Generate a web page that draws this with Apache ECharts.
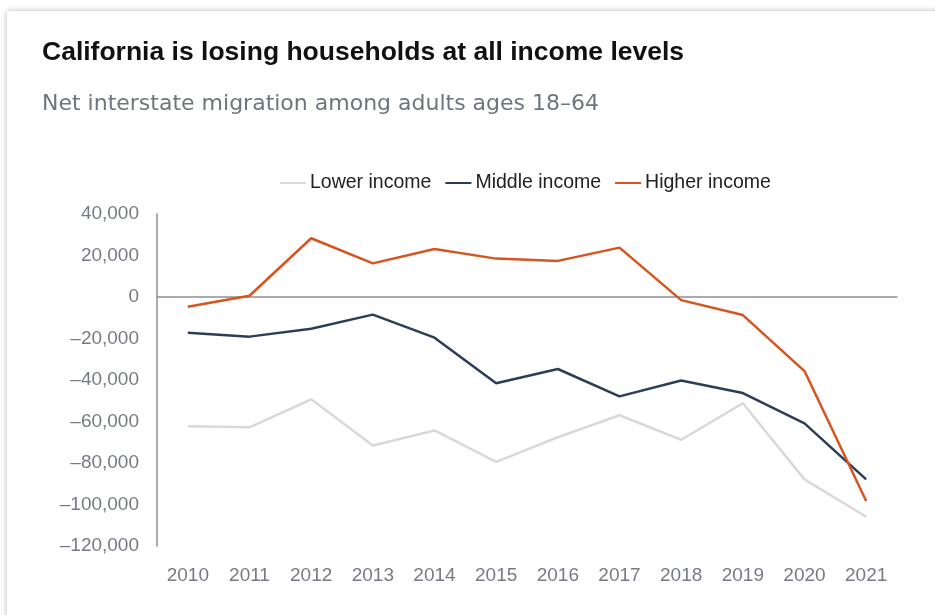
<!DOCTYPE html>
<html>
<head>
<meta charset="utf-8">
<script src="https://cdn.jsdelivr.net/npm/echarts@6/dist/echarts.min.js"></script>
<style>
html,body{margin:0;padding:0;background:#fff;}
#chart{width:935px;height:615px;}
</style>
</head>
<body>
<div id="chart"></div>
<script>
const years = ['2010','2011','2012','2013','2014','2015','2016','2017','2018','2019','2020','2021'];
const lowerIncome = [-62300,-62800,-49300,-71600,-64300,-79500,-67600,-57000,-68800,-51200,-87900,-105900];
const middleIncome = [-17200,-19100,-15300,-8500,-19600,-41600,-34700,-47900,-40200,-46300,-60900,-87900];
const higherIncome = [-4700,600,28300,16200,23100,18500,17400,23800,-1500,-8700,-35700,-98300];
const seriesNames = ['Lower income','Middle income','Higher income'];
const titleText = 'California is losing households at all income levels';
const subtitleText = 'Net interstate migration among adults ages 18–64';

const chart = echarts.init(document.getElementById('chart'), null, {renderer:'canvas'});
const axisGray = '#8c9096';
const labelGray = '#767b83';
const font = 'Liberation Sans, Arial, sans-serif';
chart.setOption({
  backgroundColor: '#ffffff',
  animation: false,
  graphic: [{
    type: 'rect', z: -10, silent: true,
    shape: {x: 7, y: 11, width: 1000, height: 700},
    style: {fill: '#ffffff', shadowBlur: 6, shadowColor: 'rgba(0,0,0,0.28)', shadowOffsetX: 0, shadowOffsetY: 0}
  }],
  title: [{
    text: titleText, left: 37, top: 34,
    textStyle: {fontFamily: font, fontSize: 26.5, fontWeight: 'bold', color: '#111111'}
  },{
    text: subtitleText, left: 37, top: 88,
    textStyle: {fontFamily: 'DejaVu Sans, sans-serif', fontSize: 22, fontWeight: 'normal', color: '#6f757e'}
  }],
  legend: {
    top: 168, left: 275,
    itemWidth: 26, itemHeight: 2, itemGap: 14,
    icon: 'rect',
    textStyle: {fontFamily: font, fontSize: 19.5, color: '#222222', padding: [0,0,0,-1]},
    data: seriesNames
  },
  grid: {left: 157, right: 38, top: 214, bottom: 69, containLabel: false},
  xAxis: {
    type: 'category', data: years, boundaryGap: true,
    axisLine: {onZero: true, lineStyle: {color: axisGray, width: 1.5}},
    axisTick: {show: false},
    axisLabel: {fontFamily: font, fontSize: 19, color: labelGray, margin: 20},
    position: 'bottom'
  },
  yAxis: {
    type: 'value', min: -120000, max: 40000, interval: 20000,
    axisLine: {show: true, lineStyle: {color: axisGray, width: 1.5}},
    axisTick: {show: false},
    splitLine: {show: false},
    axisLabel: {fontFamily: font, fontSize: 19, color: labelGray, margin: 18,
      formatter: v => (v < 0 ? '–' : '') + Math.abs(v).toLocaleString('en-US')}
  },
  series: [
    {name: seriesNames[0], type: 'line', data: lowerIncome, symbol: 'none',
      lineStyle: {color: '#d9d9d9', width: 2.5}, itemStyle: {color: '#d9d9d9'}},
    {name: seriesNames[1], type: 'line', data: middleIncome, symbol: 'none',
      lineStyle: {color: '#2c3d58', width: 2.5}, itemStyle: {color: '#2c3d58'}},
    {name: seriesNames[2], type: 'line', data: higherIncome, symbol: 'none',
      lineStyle: {color: '#d8541e', width: 2.5}, itemStyle: {color: '#d8541e'}}
  ]
});
</script>
</body>
</html>
